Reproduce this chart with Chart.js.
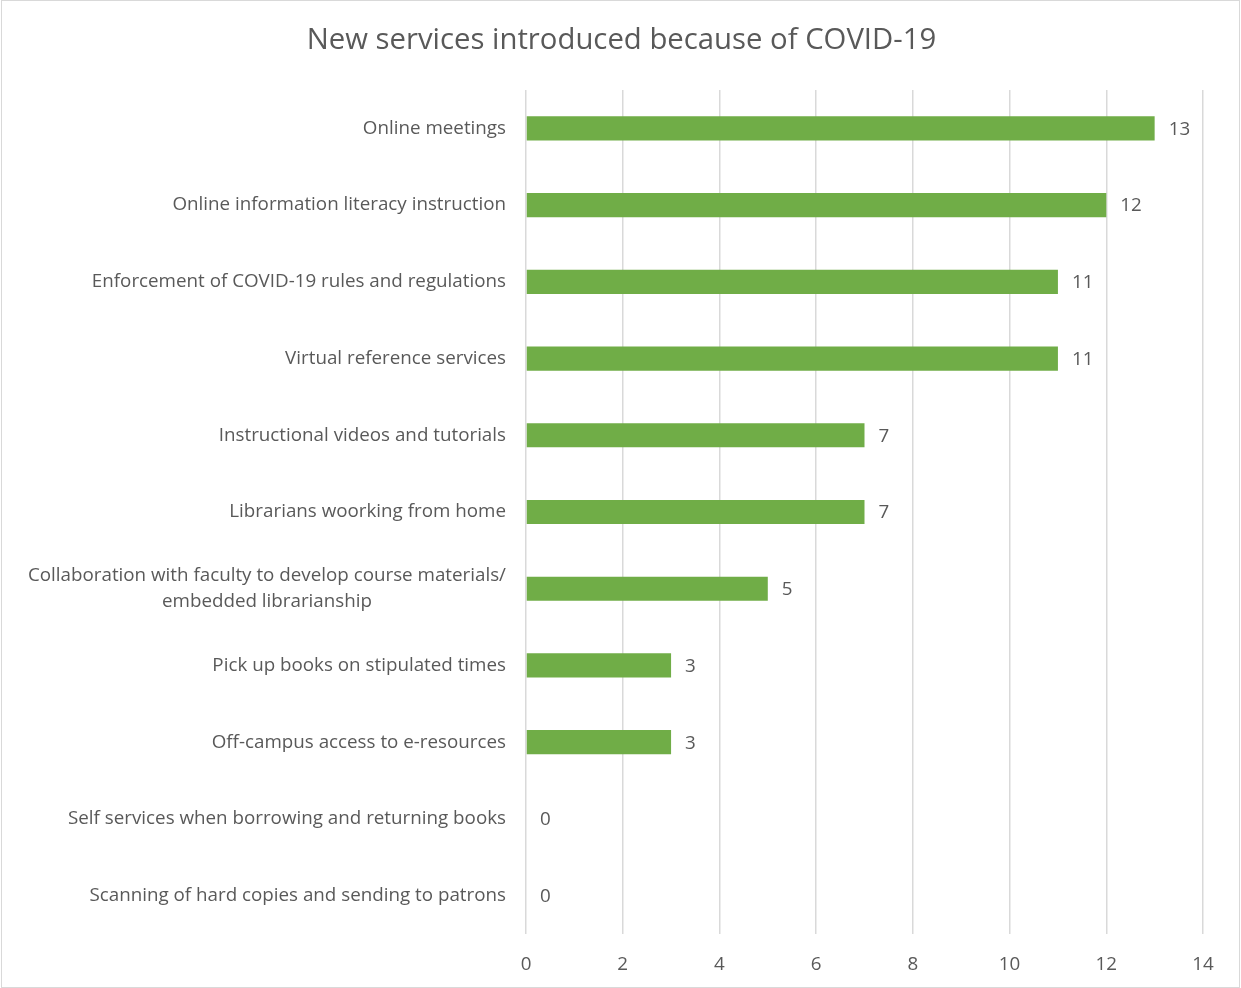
<!DOCTYPE html>
<html>
<head>
<meta charset="utf-8">
<script src="https://cdn.jsdelivr.net/npm/chart.js@4"></script>
<style>
  body { margin: 0; background: #fff; }
  #wrap {
    position: absolute; left: 1px; top: 0;
    width: 1239px; height: 988px;
    box-sizing: border-box; border: 1px solid #d9d9d9;
  }
  canvas { display: block; }
</style>
</head>
<body>
<div id="wrap"><canvas id="chart" width="1237" height="986"></canvas></div>
<script>
const chartTitle = "New services introduced because of COVID-19";
const categories = [
  "Online meetings",
  "Online information literacy instruction",
  "Enforcement of COVID-19 rules and regulations",
  "Virtual reference services",
  "Instructional videos and tutorials",
  "Librarians woorking from home",
  ["Collaboration with faculty to develop course materials/", "embedded librarianship"],
  "Pick up books on stipulated times",
  "Off-campus access to e-resources",
  "Self services when borrowing and returning books",
  "Scanning of hard copies and sending to patrons",
];
const counts = [13, 12, 11, 11, 7, 7, 5, 3, 3, 0, 0];
const xTicks = [0, 2, 4, 6, 8, 10, 12, 14];

const FONT = "'Open Sans', sans-serif";
const TEXT = "#595959";
const LABEL_SIZE = 18.8;

// title centred on the whole canvas, not the plot area
const titlePlugin = {
  id: "titlePlugin",
  afterDraw(chart) {
    const { ctx, width } = chart;
    ctx.save();
    ctx.font = "29.3px " + FONT;
    ctx.fillStyle = TEXT;
    ctx.textAlign = "center";
    ctx.textBaseline = "middle";
    ctx.fillText(chartTitle, width / 2 + 1, 40);
    ctx.restore();
  },
};

// category labels drawn by hand so wrapped lines centre on each other
const yLabels = {
  id: "yLabels",
  afterDraw(chart) {
    const { ctx, scales } = chart;
    const right = chart.chartArea.left - 20;
    ctx.save();
    ctx.font = LABEL_SIZE + "px " + FONT;
    ctx.fillStyle = TEXT;
    ctx.textBaseline = "middle";
    ctx.textAlign = "center";
    categories.forEach((label, i) => {
      const lines = Array.isArray(label) ? label : [label];
      const w = Math.max(...lines.map((l) => ctx.measureText(l).width));
      const cx = right - w / 2;
      const y = scales.y.getPixelForValue(i);
      const lh = 26;
      lines.forEach((l, k) => {
        ctx.fillText(l, cx, y + (k - (lines.length - 1) / 2) * lh);
      });
    });
    ctx.restore();
  },
};

const valueLabels = {
  id: "valueLabels",
  afterDatasetsDraw(chart) {
    const { ctx } = chart;
    const meta = chart.getDatasetMeta(0);
    ctx.save();
    ctx.font = LABEL_SIZE + "px " + FONT;
    ctx.fillStyle = TEXT;
    ctx.textBaseline = "middle";
    ctx.textAlign = "left";
    meta.data.forEach((bar, i) => {
      ctx.fillText(String(counts[i]), bar.x + 14, bar.y + 1);
    });
    ctx.restore();
  },
};

new Chart(document.getElementById("chart"), {
  type: "bar",
  data: {
    labels: categories,
    datasets: [
      {
        data: counts,
        backgroundColor: "#70AD47",
        categoryPercentage: 1,
        barPercentage: 0.315,
      },
    ],
  },
  options: {
    indexAxis: "y",
    responsive: false,
    animation: false,
    layout: { padding: { left: 524, right: 36, top: 89, bottom: 13 } },
    plugins: {
      legend: { display: false },
      tooltip: { enabled: false },
      title: { display: false },
    },
    scales: {
      x: {
        min: 0,
        max: 14,
        afterBuildTicks: (scale) => {
          scale.ticks = xTicks.map((v) => ({ value: v }));
        },
        afterFit: (scale) => {
          scale.height = 40;
        },
        grid: { color: "#d9d9d9", lineWidth: 1.5, drawTicks: false },
        border: { display: false },
        ticks: {
          color: TEXT,
          padding: 19,
          font: { family: FONT, size: LABEL_SIZE },
        },
      },
      y: {
        display: false,
      },
    },
  },
  plugins: [titlePlugin, yLabels, valueLabels],
});
</script>
</body>
</html>
